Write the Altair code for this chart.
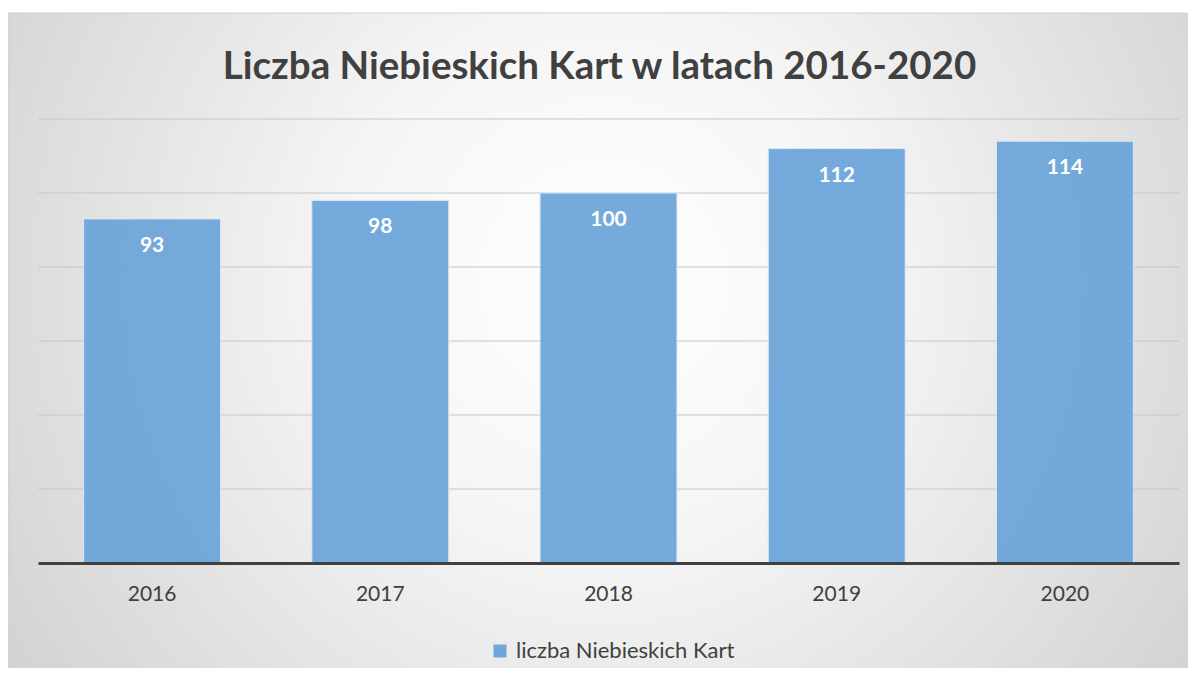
import altair as alt
import pandas as pd

years = ["2016", "2017", "2018", "2019", "2020"]
counts = [93, 98, 100, 112, 114]
grid_values = [20, 40, 60, 80, 100, 120]
series_name = "liczba Niebieskich Kart"
title_text = "Liczba Niebieskich Kart w latach 2016-2020"

FONT = "Lato"
W, H = 1141, 444

df = pd.DataFrame({"rok": years, "liczba": counts, "seria": [series_name] * len(years)})
grid_df = pd.DataFrame({"g": grid_values})
bg_df = pd.DataFrame({"b": [0]})

bg = alt.Chart(bg_df).mark_rect(
    clip=False,
    fill={
        "gradient": "radial",
        "x1": 0.5, "y1": 0.45, "x2": 0.5, "y2": 0.45,
        "r1": 0, "r2": 0.75,
        "stops": [
            {"offset": 0, "color": "#ffffff"},
            {"offset": 0.3, "color": "#f5f5f5"},
            {"offset": 1, "color": "#c4c4c4"},
        ],
    },
    stroke="#d0d0d0",
    strokeWidth=1,
).encode(
    x=alt.value(-30), x2=alt.value(W + 20),
    y=alt.value(-106), y2=alt.value(H + 106),
)

grid = alt.Chart(grid_df).mark_rule(color="#c6c6c6", strokeWidth=1).encode(
    y=alt.Y("g:Q", scale=alt.Scale(domain=[0, 120]), axis=None)
)

x_enc = alt.X(
    "rok:N",
    sort=years,
    scale=alt.Scale(paddingInner=0.4, paddingOuter=0.2),
    axis=alt.Axis(
        title=None, labelAngle=0, labelFont=FONT, labelFontSize=21,
        labelColor="#404040", labelPadding=20, ticks=False,
        domainColor="#404040", domainWidth=3, zindex=1,
    ),
)
y_enc = alt.Y(
    "liczba:Q",
    scale=alt.Scale(domain=[0, 120], nice=False),
    axis=None,
)

bars = alt.Chart(df).mark_bar(
    opacity=0.95, stroke="#dce8f4", strokeWidth=1
).encode(
    x=x_enc,
    y=y_enc,
    color=alt.Color(
        "seria:N",
        scale=alt.Scale(range=["#6ea6da"]),
        legend=alt.Legend(
            title=None, orient="none", legendX=451, legendY=521,
            symbolType="square", symbolSize=169, symbolStrokeWidth=0,
            symbolOpacity=1, labelLimit=0,
            labelFont=FONT, labelFontSize=22, labelColor="#404040",
            labelOffset=5,
        ),
    ),
)

labels = alt.Chart(df).mark_text(
    font=FONT, fontSize=21, fontWeight="bold", color="white",
    baseline="middle", dy=27,
).encode(
    x=alt.X("rok:N", sort=years),
    y=alt.Y("liczba:Q"),
    text=alt.Text("liczba:Q"),
)

chart = alt.layer(bg, grid, bars, labels).properties(
    width=W,
    height=H,
    title=alt.TitleParams(
        title_text, font=FONT, fontSize=38.5, fontWeight="bold",
        color="#404040", anchor="middle", frame="group", offset=-75, dx=-9,
    ),
    autosize=alt.AutoSizeParams(type="none"),
    padding={"left": 30, "top": 111, "right": 9, "bottom": 105},
).configure(background="white").configure_view(stroke=None)

chart.save("out.html", embed_options={"renderer": "svg", "actions": False})
